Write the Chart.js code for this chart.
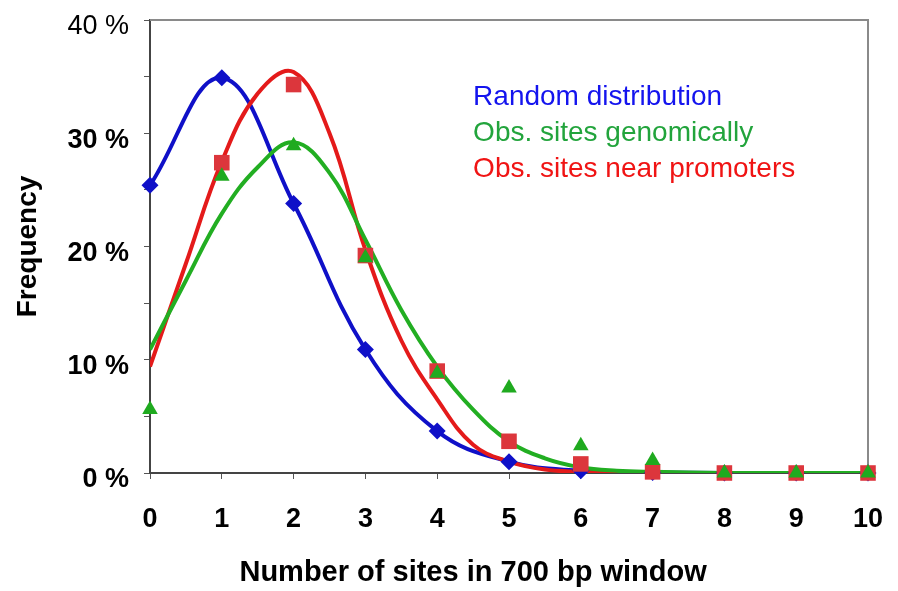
<!DOCTYPE html>
<html>
<head>
<meta charset="utf-8">
<script src="https://cdn.jsdelivr.net/npm/chart.js@4/dist/chart.umd.min.js"></script>
<style>
  html, body { margin: 0; padding: 0; background: #fff; }
  #wrap { width: 898px; height: 591px; position: relative; }
</style>
</head>
<body>
<div id="wrap"><canvas id="grafico"></canvas></div>
<script>
// Valores observados (en %)
const SITIOS = [0, 1, 2, 3, 4, 5, 6, 7, 8, 9, 10];
const ALEATORIO = [25.4, 34.9, 23.8, 10.9, 3.7, 1.0, 0.2, 0.05, 0, 0, 0];
const GENOMICO = [5.6, 26.2, 28.9, 19.0, 8.8, 7.5, 2.4, 1.1, 0, 0, 0];
const PROMOTORES = [null, 27.4, 34.3, 19.2, 9.0, 2.8, 0.8, 0.1, 0, 0, 0];

// Curvas ajustadas
const AJUSTE_X = [0, 0.5, 1, 1.5, 2, 2.5, 3, 3.5, 4, 4.5, 5, 5.5, 6, 6.5, 7, 8, 9, 10];
const AJUSTE_GENOMICO = [10.9, 17.0, 22.9, 27.0, 29.2, 26.5, 20.6, 14.4, 9.4, 5.6, 2.8, 1.3, 0.5, 0.2, 0.1, 0, 0, 0];
const AJUSTE_PROMOTORES = [9.4, 18.5, 27.5, 33.5, 35.4, 30.0, 19.7, 11.7, 6.5, 2.5, 1.0, 0.3, 0.1, 0, 0, 0, 0, 0];

const Y_TICKS = [0, 10, 20, 30, 40];
const LEYENDA = ['Random distribution', 'Obs. sites genomically', 'Obs. sites near promoters'];
const TITULO_X = 'Number of sites in 700 bp window';
const TITULO_Y = 'Frequency';

const AZUL = '#0f10c8';
const VERDE = '#22ae22';
const ROJO = '#e41a1a';
const FUENTE = "'Liberation Sans', Arial, sans-serif";

function puntos(xs, ys) {
  return xs.map((x, i) => ({ x: x, y: ys[i] }));
}

// Marco gris, leyenda y título del eje x
const decoracion = {
  id: 'decoracion',
  beforeDatasetsDraw(chart) {
    const { ctx, chartArea } = chart;
    ctx.save();
    ctx.strokeStyle = '#8a8a8a';
    ctx.lineWidth = 2;
    ctx.beginPath();
    ctx.moveTo(chartArea.left, chartArea.top);
    ctx.lineTo(chartArea.right, chartArea.top);
    ctx.lineTo(chartArea.right, chartArea.bottom);
    ctx.stroke();
    ctx.restore();
  },
  afterDraw(chart) {
    const { ctx, scales } = chart;
    ctx.save();
    ctx.font = '28px ' + FUENTE;
    ctx.textBaseline = 'middle';
    ctx.textAlign = 'left';
    const colores = ['#1414ee', '#22a43c', '#f01414'];
    LEYENDA.forEach((texto, i) => {
      ctx.fillStyle = colores[i];
      ctx.fillText(texto, scales.x.getPixelForValue(4.5), scales.y.getPixelForValue(33.2 - i * 3.2));
    });
    ctx.font = 'bold 29px ' + FUENTE;
    ctx.fillStyle = '#000';
    ctx.textAlign = 'center';
    ctx.fillText(TITULO_X, scales.x.getPixelForValue(4.5), 573);
    ctx.restore();
  }
};

const ctx = document.getElementById('grafico').getContext('2d');
new Chart(ctx, {
  type: 'line',
  data: {
    datasets: [
      {
        data: puntos(SITIOS, GENOMICO), showLine: false, order: 1, clip: false,
        pointStyle: 'triangle', pointRadius: 9, pointBackgroundColor: '#1faa1f', pointBorderWidth: 0
      },
      {
        data: puntos(SITIOS, PROMOTORES), showLine: false, order: 2, clip: false,
        pointStyle: 'rect', pointRadius: 11, pointBackgroundColor: '#dc363c', pointBorderWidth: 0
      },
      {
        data: puntos(SITIOS, ALEATORIO), showLine: false, order: 3, clip: false,
        pointStyle: 'rectRot', pointRadius: 8.5, pointBackgroundColor: AZUL, pointBorderWidth: 0
      },
      {
        data: puntos(AJUSTE_X, AJUSTE_GENOMICO), order: 4, borderColor: VERDE, borderWidth: 4,
        pointRadius: 0, tension: 0.4
      },
      {
        data: puntos(AJUSTE_X, AJUSTE_PROMOTORES), order: 5, borderColor: ROJO, borderWidth: 4,
        pointRadius: 0, tension: 0.4
      },
      {
        data: puntos(SITIOS, ALEATORIO), order: 6, borderColor: AZUL, borderWidth: 4,
        pointRadius: 0, tension: 0.4
      }
    ]
  },
  options: {
    responsive: true,
    maintainAspectRatio: false,
    animation: false,
    layout: { padding: { top: 20, right: 30, left: 0, bottom: 0 } },
    plugins: { legend: { display: false }, tooltip: { enabled: false } },
    scales: {
      x: {
        type: 'linear', min: 0, max: 10,
        afterFit(scale) {
          scale.height = 118;
          scale.paddingLeft = 0;
          scale.paddingRight = 0;
        },
        ticks: {
          stepSize: 1, color: '#000', padding: 24,
          font: { family: FUENTE, size: 27, weight: 'bold' }
        },
        grid: { drawOnChartArea: false, tickLength: 6, color: '#555' },
        border: { color: '#444', width: 2 }
      },
      y: {
        min: 0, max: 40,
        afterFit(scale) {
          scale.width = 150;
          scale.paddingTop = 0;
          scale.paddingBottom = 0;
        },
        ticks: {
          stepSize: 5, color: '#000', padding: 15, labelOffset: 7,
          callback: v => Y_TICKS.includes(v) ? v + ' %' : '',
          font: c => ({ family: FUENTE, size: 27, weight: c.tick && c.tick.value === 40 ? 'normal' : 'bold' })
        },
        grid: { drawOnChartArea: false, tickLength: 6, color: '#555' },
        border: { color: '#444', width: 2 },
        title: {
          display: true, text: TITULO_Y, color: '#000', padding: { top: 11, bottom: 0 },
          font: { family: FUENTE, size: 28, weight: 'bold' }
        }
      }
    }
  },
  plugins: [decoracion]
});
</script>
</body>
</html>
